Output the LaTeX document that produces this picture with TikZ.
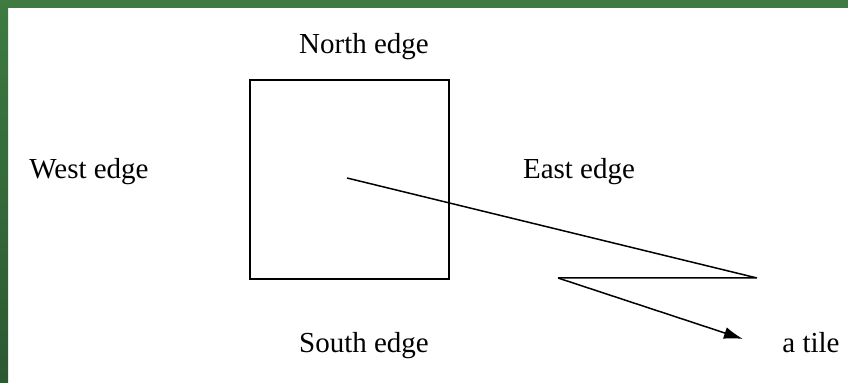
\documentclass[tikz,border=0pt]{standalone}
\usepackage{fontspec}
\setmainfont{Liberation Serif}
\usetikzlibrary{arrows.meta}

\definecolor{framegreen}{RGB}{62,122,66}
\definecolor{framedark}{RGB}{44,88,50}

\begin{document}
\begin{tikzpicture}[x=0.5pt,y=-0.5pt,>/.tip={Latex[length=9.5pt,width=6pt]},
	lbl/.style={anchor=base,inner sep=0pt,font=\fontsize{14.5}{17}\selectfont}]
	\useasboundingbox (0,0) rectangle (848,383);
	% frame on top and left
	\fill[white] (0,0) rectangle (848,383);
	\fill[framegreen] (0,0) rectangle (848,8);
	\shade[top color=framegreen,bottom color=framedark] (0,0) rectangle (8,383);

	\draw[line width=1pt] (250,80) rectangle (449,279);

	\node[lbl] (north) at (364,54) {North edge};
	\node[lbl] (south) at (364,353) {South edge};
	\node[lbl] (west) at (89,179) {West edge};
	\node[lbl] (east) at (579,179) {East edge};
	\node[lbl] (tile) at (811,353) {a tile};

	\coordinate (start) at (347,178);
	\coordinate (turn) at (757,278);
	\coordinate (back) at (558,278);
	\coordinate (tip) at (743,339);
	\draw[line width=0.75pt,line join=bevel] (start) -- (turn) -- (back);
	\draw[line width=0.75pt,->] (back) -- (tip);
\end{tikzpicture}
\end{document}
